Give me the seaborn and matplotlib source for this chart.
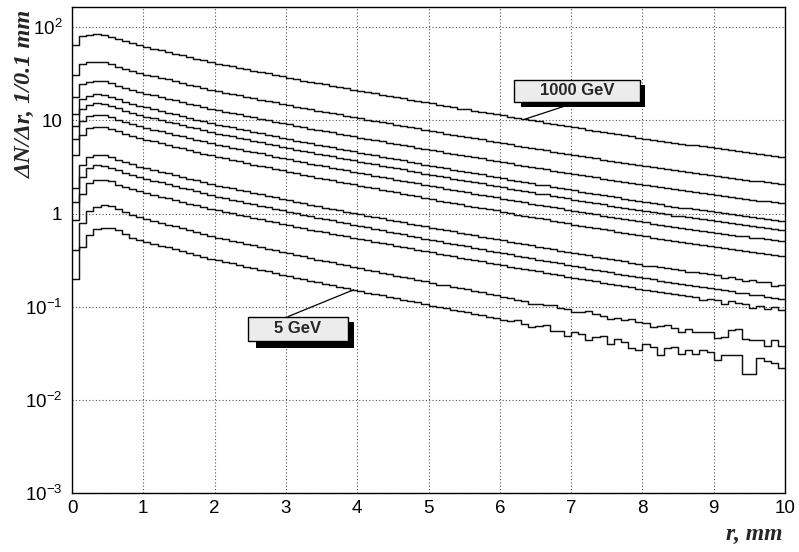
import numpy as np
import pandas as pd
import matplotlib
matplotlib.use("Agg")
import matplotlib.pyplot as plt
import seaborn as sns
from matplotlib.patches import Rectangle
from matplotlib.ticker import MultipleLocator, LogLocator, FixedLocator, FixedFormatter, NullFormatter

# ---------------- data (bin contents, 0.1 mm bins from r = 0 to 10 mm) ----------------
r_range = (0.0, 10.0)
n_bins = 100

h_1000 = [63.8, 80.6, 83.2, 84.0, 83.1, 79.3, 74.8, 70.6, 67.0, 63.8,
          61.3, 58.8, 56.4, 54.3, 52.0, 49.9, 47.9, 45.9, 44.1, 42.3,
          40.7, 39.3, 38.0, 36.7, 35.4, 34.2, 33.1, 31.9, 30.7, 29.7,
          28.7, 27.7, 26.8, 25.9, 25.1, 24.3, 23.6, 22.8, 22.1, 21.4,
          20.7, 20.2, 19.5, 18.9, 18.3, 17.7, 17.2, 16.7, 16.2, 15.6,
          15.2, 14.7, 14.3, 13.9, 13.4, 13.1, 12.7, 12.3, 11.9, 11.6,
          11.3, 10.9, 10.6, 10.3, 10.0, 9.74, 9.49, 9.16, 8.90, 8.65,
          8.40, 8.19, 7.96, 7.73, 7.52, 7.32, 7.11, 6.92, 6.74, 6.55,
          6.38, 6.22, 6.06, 5.91, 5.75, 5.63, 5.50, 5.38, 5.25, 5.13,
          5.01, 4.90, 4.79, 4.68, 4.58, 4.47, 4.37, 4.27, 4.17, 4.07]

h_02 = [30.6, 40.0, 41.9, 42.5, 42.0, 40.1, 37.9, 35.7, 33.9, 32.3,
        31.0, 29.8, 28.5, 27.5, 26.3, 25.2, 24.2, 23.2, 22.3, 21.4,
        20.6, 19.9, 19.2, 18.6, 17.9, 17.3, 16.7, 16.2, 15.6, 15.0,
        14.5, 14.0, 13.6, 13.1, 12.7, 12.3, 11.9, 11.6, 11.2, 10.8,
        10.5, 10.2, 9.86, 9.56, 9.27, 8.97, 8.71, 8.46, 8.20, 7.91,
        7.69, 7.44, 7.23, 7.01, 6.80, 6.63, 6.42, 6.25, 6.04, 5.87,
        5.70, 5.53, 5.36, 5.23, 5.06, 4.93, 4.80, 4.63, 4.51, 4.38,
        4.25, 4.14, 4.03, 3.91, 3.80, 3.70, 3.60, 3.50, 3.41, 3.32,
        3.23, 3.15, 3.06, 2.99, 2.91, 2.85, 2.78, 2.72, 2.66, 2.60,
        2.54, 2.48, 2.42, 2.37, 2.32, 2.26, 2.21, 2.16, 2.11, 2.06]

h_03 = [18.0, 24.4, 26.0, 26.5, 26.2, 25.0, 23.6, 22.3, 21.1, 20.1,
        19.3, 18.6, 17.8, 17.1, 16.4, 15.7, 15.1, 14.5, 13.9, 13.4,
        12.8, 12.4, 12.0, 11.6, 11.2, 10.8, 10.4, 10.1, 9.70, 9.38,
        9.06, 8.75, 8.45, 8.16, 7.92, 7.66, 7.45, 7.21, 6.97, 6.76,
        6.55, 6.36, 6.15, 5.96, 5.78, 5.59, 5.43, 5.27, 5.11, 4.93,
        4.80, 4.64, 4.51, 4.37, 4.24, 4.13, 4.00, 3.90, 3.76, 3.66,
        3.55, 3.45, 3.34, 3.26, 3.15, 3.07, 2.99, 2.89, 2.81, 2.73,
        2.65, 2.58, 2.51, 2.44, 2.37, 2.31, 2.24, 2.18, 2.13, 2.07,
        2.01, 1.96, 1.91, 1.86, 1.82, 1.78, 1.74, 1.70, 1.66, 1.62,
        1.58, 1.54, 1.51, 1.48, 1.44, 1.41, 1.38, 1.35, 1.32, 1.29]

h_04 = [11.8, 17.1, 18.5, 19.0, 18.8, 17.9, 16.9, 15.9, 15.1, 14.3,
        13.8, 13.2, 12.6, 12.1, 11.6, 11.2, 10.7, 10.2, 9.82, 9.41,
        9.03, 8.72, 8.42, 8.13, 7.85, 7.56, 7.30, 7.03, 6.76, 6.54,
        6.31, 6.08, 5.87, 5.66, 5.49, 5.30, 5.15, 4.98, 4.81, 4.66,
        4.50, 4.37, 4.22, 4.09, 3.97, 3.84, 3.72, 3.61, 3.50, 3.36,
        3.27, 3.15, 3.06, 2.96, 2.87, 2.79, 2.72, 2.64, 2.55, 2.47,
        2.39, 2.32, 2.24, 2.19, 2.11, 2.05, 2.01, 1.94, 1.88, 1.82,
        1.77, 1.72, 1.67, 1.62, 1.57, 1.53, 1.49, 1.44, 1.40, 1.36,
        1.33, 1.29, 1.26, 1.22, 1.19, 1.16, 1.14, 1.11, 1.08, 1.06,
        1.03, 1.01, 0.982, 0.960, 0.939, 0.914, 0.893, 0.870, 0.851, 0.830]

h_05 = [8.8, 13.4, 14.7, 15.2, 15.0, 14.3, 13.5, 12.7, 12.1, 11.5,
        11.0, 10.5, 10.1, 9.71, 9.30, 8.92, 8.54, 8.19, 7.86, 7.52,
        7.22, 6.98, 6.73, 6.51, 6.28, 6.05, 5.84, 5.62, 5.41, 5.23,
        5.05, 4.86, 4.70, 4.53, 4.39, 4.24, 4.12, 3.98, 3.85, 3.72,
        3.60, 3.50, 3.37, 3.27, 3.18, 3.07, 2.98, 2.89, 2.80, 2.69,
        2.61, 2.52, 2.45, 2.37, 2.30, 2.23, 2.17, 2.11, 2.04, 1.98,
        1.92, 1.85, 1.79, 1.75, 1.69, 1.64, 1.61, 1.55, 1.50, 1.46,
        1.41, 1.38, 1.34, 1.30, 1.26, 1.22, 1.19, 1.16, 1.12, 1.09,
        1.06, 1.03, 1.01, 0.979, 0.953, 0.932, 0.909, 0.888, 0.866, 0.845,
        0.825, 0.806, 0.786, 0.768, 0.751, 0.731, 0.714, 0.696, 0.681, 0.664]

h_06 = [6.3, 9.9, 11.1, 11.5, 11.4, 10.8, 10.2, 9.64, 9.13, 8.67,
        8.34, 7.98, 7.65, 7.35, 7.04, 6.75, 6.46, 6.20, 5.95, 5.69,
        5.46, 5.28, 5.09, 4.92, 4.75, 4.58, 4.42, 4.26, 4.09, 3.96,
        3.82, 3.68, 3.55, 3.43, 3.32, 3.21, 3.12, 3.01, 2.91, 2.82,
        2.73, 2.65, 2.55, 2.47, 2.40, 2.32, 2.25, 2.19, 2.12, 2.04,
        1.98, 1.91, 1.85, 1.79, 1.74, 1.69, 1.64, 1.60, 1.54, 1.50,
        1.45, 1.40, 1.36, 1.32, 1.28, 1.24, 1.22, 1.17, 1.14, 1.10,
        1.07, 1.04, 1.01, 0.980, 0.952, 0.926, 0.899, 0.874, 0.850, 0.826,
        0.803, 0.782, 0.761, 0.741, 0.721, 0.705, 0.688, 0.672, 0.656, 0.639,
        0.624, 0.610, 0.595, 0.581, 0.568, 0.553, 0.541, 0.527, 0.515, 0.503]

h_07 = [4.3, 7.05, 8.26, 8.6, 8.5, 8.1, 7.63, 7.19, 6.81, 6.46,
        6.20, 5.94, 5.68, 5.46, 5.22, 5.01, 4.79, 4.59, 4.39, 4.21,
        4.04, 3.90, 3.76, 3.63, 3.50, 3.36, 3.25, 3.13, 3.01, 2.91,
        2.80, 2.70, 2.61, 2.51, 2.43, 2.35, 2.28, 2.20, 2.12, 2.06,
        1.99, 1.93, 1.86, 1.80, 1.75, 1.69, 1.63, 1.58, 1.53, 1.47,
        1.43, 1.38, 1.34, 1.30, 1.26, 1.22, 1.18, 1.14, 1.11, 1.08,
        1.04, 1.01, 0.972, 0.946, 0.920, 0.894, 0.869, 0.835, 0.811, 0.787,
        0.762, 0.742, 0.720, 0.697, 0.678, 0.658, 0.639, 0.620, 0.603, 0.585,
        0.568, 0.553, 0.538, 0.524, 0.509, 0.497, 0.485, 0.473, 0.461, 0.450,
        0.439, 0.427, 0.417, 0.407, 0.397, 0.388, 0.378, 0.369, 0.360, 0.351]

h_08 = [1.9, 3.3, 4.04, 4.25, 4.22, 4.02, 3.77, 3.55, 3.37, 3.19,
        3.06, 2.94, 2.81, 2.70, 2.58, 2.47, 2.37, 2.27, 2.17, 2.08,
        2.00, 1.93, 1.86, 1.79, 1.73, 1.66, 1.61, 1.55, 1.49, 1.44,
        1.39, 1.33, 1.29, 1.24, 1.20, 1.16, 1.13, 1.09, 1.05, 1.02,
        0.982, 0.952, 0.918, 0.888, 0.863, 0.833, 0.808, 0.782, 0.757, 0.727,
        0.706, 0.684, 0.663, 0.642, 0.621, 0.604, 0.582, 0.565, 0.548, 0.531,
        0.514, 0.497, 0.480, 0.468, 0.455, 0.442, 0.429, 0.413, 0.401, 0.389,
        0.377, 0.367, 0.356, 0.345, 0.330, 0.329, 0.316, 0.306, 0.298, 0.289,
        0.276, 0.276, 0.266, 0.259, 0.252, 0.246, 0.236, 0.234, 0.228, 0.222,
        0.217, 0.205, 0.209, 0.199, 0.190, 0.194, 0.183, 0.185, 0.165, 0.173]

h_09 = [1.32, 2.44, 3.07, 3.30, 3.26, 3.10, 2.92, 2.75, 2.60, 2.47,
        2.37, 2.26, 2.16, 2.07, 1.98, 1.90, 1.82, 1.74, 1.66, 1.59,
        1.52, 1.47, 1.41, 1.36, 1.31, 1.26, 1.22, 1.17, 1.13, 1.09,
        1.05, 1.01, 0.970, 0.934, 0.904, 0.871, 0.845, 0.815, 0.785, 0.760,
        0.734, 0.712, 0.686, 0.663, 0.641, 0.618, 0.599, 0.580, 0.561, 0.539,
        0.523, 0.504, 0.488, 0.473, 0.457, 0.444, 0.429, 0.416, 0.401, 0.389,
        0.376, 0.364, 0.352, 0.342, 0.330, 0.321, 0.312, 0.300, 0.291, 0.282,
        0.273, 0.265, 0.257, 0.249, 0.241, 0.234, 0.227, 0.220, 0.214, 0.207,
        0.201, 0.196, 0.190, 0.185, 0.180, 0.175, 0.171, 0.166, 0.162, 0.158,
        0.154, 0.150, 0.146, 0.142, 0.139, 0.135, 0.132, 0.128, 0.125, 0.122]

h_10 = [0.85, 1.61, 2.12, 2.28, 2.30, 2.22, 2.04, 1.92, 1.82, 1.73,
        1.66, 1.59, 1.52, 1.46, 1.40, 1.34, 1.28, 1.23, 1.18, 1.13,
        1.08, 1.04, 1.01, 0.971, 0.936, 0.899, 0.869, 0.837, 0.805, 0.777,
        0.750, 0.722, 0.697, 0.672, 0.651, 0.628, 0.610, 0.589, 0.568, 0.550,
        0.531, 0.515, 0.497, 0.481, 0.467, 0.451, 0.437, 0.423, 0.409, 0.393,
        0.382, 0.370, 0.359, 0.347, 0.336, 0.327, 0.315, 0.306, 0.297, 0.288,
        0.278, 0.269, 0.260, 0.253, 0.246, 0.239, 0.232, 0.223, 0.217, 0.210,
        0.204, 0.198, 0.193, 0.187, 0.181, 0.176, 0.171, 0.166, 0.161, 0.156,
        0.152, 0.148, 0.144, 0.140, 0.136, 0.133, 0.130, 0.127, 0.118, 0.121,
        0.117, 0.108, 0.114, 0.109, 0.106, 0.098, 0.101, 0.095, 0.099, 0.092]

h_11 = [0.41, 0.80, 1.06, 1.18, 1.23, 1.22, 1.13, 1.04, 0.962, 0.910,
        0.872, 0.833, 0.795, 0.761, 0.727, 0.694, 0.663, 0.633, 0.605, 0.578,
        0.552, 0.533, 0.512, 0.492, 0.474, 0.455, 0.438, 0.421, 0.403, 0.389,
        0.374, 0.359, 0.346, 0.332, 0.321, 0.309, 0.299, 0.288, 0.277, 0.267,
        0.258, 0.250, 0.240, 0.231, 0.224, 0.215, 0.208, 0.202, 0.194, 0.187,
        0.181, 0.173, 0.169, 0.162, 0.157, 0.153, 0.146, 0.143, 0.137, 0.133,
        0.128, 0.123, 0.119, 0.116, 0.106, 0.108, 0.105, 0.105, 0.0975, 0.0943,
        0.087, 0.0886, 0.089, 0.0828, 0.0802, 0.073, 0.0752, 0.0728, 0.073, 0.0684,
        0.0662, 0.060, 0.0624, 0.063, 0.0587, 0.054, 0.058, 0.0541, 0.053, 0.053,
        0.046, 0.047, 0.056, 0.057, 0.045, 0.044, 0.044, 0.038, 0.044, 0.038]

h_5 = [0.20, 0.44, 0.59, 0.68, 0.70, 0.70, 0.66, 0.61, 0.547, 0.518,
       0.496, 0.474, 0.452, 0.433, 0.414, 0.395, 0.377, 0.361, 0.344, 0.329,
       0.314, 0.303, 0.291, 0.280, 0.270, 0.259, 0.249, 0.239, 0.230, 0.221,
       0.213, 0.204, 0.197, 0.189, 0.183, 0.176, 0.170, 0.164, 0.158, 0.152,
       0.147, 0.142, 0.137, 0.132, 0.127, 0.123, 0.118, 0.115, 0.111, 0.106,
       0.103, 0.0987, 0.0959, 0.0924, 0.0896, 0.0868, 0.0833, 0.0812, 0.0777, 0.0756,
       0.0728, 0.0700, 0.072, 0.0659, 0.060, 0.0616, 0.064, 0.055, 0.0555, 0.049,
       0.054, 0.0504, 0.044, 0.0471, 0.048, 0.040, 0.045, 0.0414, 0.036, 0.034,
       0.040, 0.0365, 0.030, 0.036, 0.037, 0.031, 0.034, 0.0308, 0.034, 0.033,
       0.027, 0.030, 0.030, 0.030, 0.019, 0.019, 0.028, 0.026, 0.025, 0.022]

series_ids = ["1000 GeV", "s02", "s03", "s04", "s05", "s06",
              "s07", "s08", "s09", "s10", "s11", "5 GeV"]
series_vals = [h_1000, h_02, h_03, h_04, h_05, h_06,
               h_07, h_08, h_09, h_10, h_11, h_5]

y_tick_values = [1e-3, 1e-2, 1e-1, 1, 10, 100]
y_tick_labels = ["$10^{-3}$", "$10^{-2}$", "$10^{-1}$", "1", "10", "$10^{2}$"]
x_tick_values = [0, 1, 2, 3, 4, 5, 6, 7, 8, 9, 10]
x_tick_labels = ["0", "1", "2", "3", "4", "5", "6", "7", "8", "9", "10"]

label_hi = "1000 GeV"
label_lo = "5 GeV"
ptr_hi_bin = 63   # bin where the 1000 GeV pointer touches
ptr_lo_bin = 39   # bin where the 5 GeV pointer touches

# ---------------- build long table ----------------
bin_w = (r_range[1] - r_range[0]) / n_bins
centers = r_range[0] + bin_w * (np.arange(n_bins) + 0.5)
rows = []
for sid, vals in zip(series_ids, series_vals):
    assert len(vals) == n_bins, (sid, len(vals))
    for c, v in zip(centers, vals):
        rows.append((sid, c, v))
df = pd.DataFrame(rows, columns=["series", "r", "dN"])

# ---------------- style ----------------
sns.set_style("white")
plt.rcParams["font.family"] = ["Liberation Sans", "DejaVu Sans"]
plt.rcParams["mathtext.default"] = "regular"

fig = plt.figure(figsize=(7.99, 5.52), dpi=100)
ax = fig.add_axes([72 / 799, 59 / 552, 713 / 799, 486 / 552])

sns.histplot(data=df, x="r", weights="dN", hue="series", hue_order=series_ids,
             bins=n_bins, binrange=r_range, element="step", fill=False,
             palette=["#111111"] * len(series_ids), legend=False,
             linewidth=1.05, ax=ax)

ax.set_yscale("log")
ax.set_xlim(0, 10)
ax.set_ylim(1e-3, 165)

# ticks
ax.xaxis.set_major_locator(FixedLocator(x_tick_values))
ax.xaxis.set_major_formatter(FixedFormatter(x_tick_labels))
ax.xaxis.set_minor_locator(MultipleLocator(0.2))
ax.yaxis.set_major_locator(FixedLocator(y_tick_values))
ax.yaxis.set_major_formatter(FixedFormatter(y_tick_labels))
ax.yaxis.set_minor_locator(LogLocator(base=10, subs=np.arange(2, 10)))
ax.yaxis.set_minor_formatter(NullFormatter())

ax.tick_params(axis="both", which="both", direction="in", top=False, right=False,
               color="black", width=1.0, labelsize=13.5, labelcolor="black")
ax.tick_params(axis="x", which="major", length=10.5, pad=5)
ax.tick_params(axis="x", which="minor", length=5.5)
ax.tick_params(axis="y", which="major", length=15, pad=7)
ax.tick_params(axis="y", which="minor", length=8)

for s in ax.spines.values():
    s.set_visible(True)
    s.set_color("black")
    s.set_linewidth(1.0)

ax.grid(True, which="major", axis="both", linestyle=(0, (1, 2)), color="#555555", linewidth=0.8)
ax.set_axisbelow(True)
ax.set_xlabel("")
ax.set_ylabel("")

# axis titles
ax.text(0.997, -0.0967, "r, mm", transform=ax.transAxes, ha="right", va="baseline",
        family="Liberation Serif", weight="bold", style="italic", fontsize=17)
ax.text(-0.066, 0.994, "ΔN/Δr, 1/0.1 mm", transform=ax.transAxes, rotation=90,
        ha="center", va="top", family="Liberation Serif", weight="bold", style="italic",
        fontsize=17.5)

# labelled boxes with shadows and pointer lines
def label_box(text, box, shadow, start, target):
    ax.annotate("", xy=target, xycoords="data", xytext=start, textcoords="axes fraction",
                arrowprops=dict(arrowstyle="-", color="black", lw=0.9, shrinkA=0, shrinkB=0),
                zorder=4)
    ax.add_patch(Rectangle((shadow[0], shadow[1]), shadow[2] - shadow[0], shadow[3] - shadow[1],
                           transform=ax.transAxes, facecolor="black", edgecolor="none",
                           zorder=5, clip_on=False))
    ax.add_patch(Rectangle((box[0], box[1]), box[2] - box[0], box[3] - box[1],
                           transform=ax.transAxes, facecolor="#ececec", edgecolor="black",
                           linewidth=1.0, zorder=6, clip_on=False))
    ax.text((box[0] + box[2]) / 2, (box[1] + box[3]) / 2, text, transform=ax.transAxes,
            ha="center", va="center", fontsize=12, weight="bold", zorder=7)

hi_idx = series_ids.index(label_hi)
lo_idx = series_ids.index(label_lo)
label_box(label_hi, (0.620, 0.805, 0.797, 0.850), (0.630, 0.795, 0.804, 0.840),
          (0.689, 0.795), (centers[ptr_hi_bin], series_vals[hi_idx][ptr_hi_bin]))
label_box(label_lo, (0.247, 0.313, 0.387, 0.363), (0.258, 0.298, 0.396, 0.352),
          (0.303, 0.363), (centers[ptr_lo_bin], series_vals[lo_idx][ptr_lo_bin]))

fig.savefig("out.png", dpi=100)
